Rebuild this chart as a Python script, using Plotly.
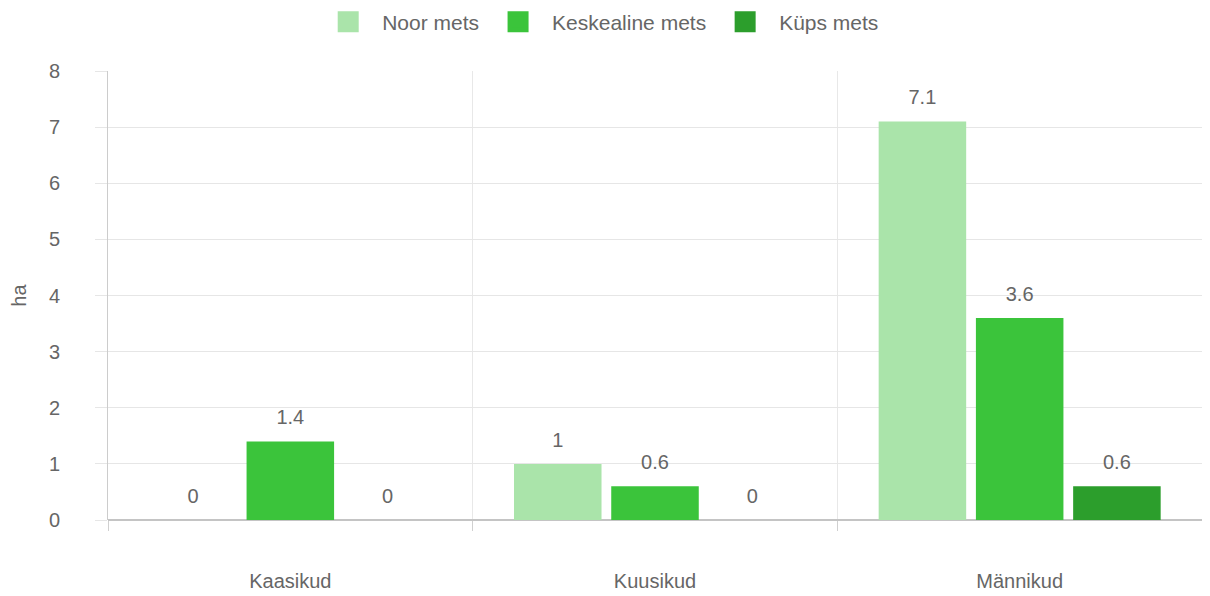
import plotly.graph_objects as go

categories = ["Kaasikud", "Kuusikud", "Männikud"]
series_names = ["Noor mets", "Keskealine mets", "Küps mets"]
noor = [0, 1, 7.1]
keskealine = [1.4, 0.6, 3.6]
kyps = [0, 0, 0.6]
colors = ["#aae4aa", "#3bc43b", "#2c9e2c"]
y_ticks = [0, 1, 2, 3, 4, 5, 6, 7, 8]

FONT = "Liberation Sans, Arial, sans-serif"
GRAY = "#666666"
FS = 20

fig = go.Figure()
for name, vals, col in zip(series_names, [noor, keskealine, kyps], colors):
    fig.add_trace(go.Bar(
        name=name, x=categories, y=vals, marker_color=col,
        marker_line=dict(width=0), showlegend=False,
        offsetgroup=name, legendgroup=name, hoverinfo="skip",
    ))
for name, vals in zip(series_names, [noor, keskealine, kyps]):
    fig.add_trace(go.Scatter(
        x=categories, y=vals, mode="markers+text",
        text=[f"{v:g}" for v in vals], textposition="top center",
        textfont=dict(family=FONT, size=FS, color=GRAY),
        marker=dict(size=18, opacity=0), offsetgroup=name,
        showlegend=False, hoverinfo="skip", cliponaxis=False,
    ))
# legend-only entries with larger square swatches
for name, col in zip(series_names, colors):
    fig.add_trace(go.Scatter(
        x=[None], y=[None], mode="markers", name=name, legendgroup=name,
        marker=dict(symbol="square", size=16, color=col,
                    line=dict(color=col, width=5)),
        hoverinfo="skip",
    ))

fig.update_layout(
    width=1194, height=588,
    margin=dict(l=100, r=0, t=63, b=76, autoexpand=False),
    paper_bgcolor="white", plot_bgcolor="white",
    barmode="group", bargap=0.2, bargroupgap=0.1,
    scattermode="group", scattergap=0.2,
    font=dict(family=FONT, size=FS, color=GRAY),
    legend=dict(orientation="h", x=0.449, xanchor="center",
                y=1.109, yanchor="middle", font=dict(size=21, color=GRAY),
                itemwidth=58, traceorder="normal"),
    showlegend=True,
)
fig.update_xaxes(
    type="category", tickson="boundaries", ticks="outside", ticklen=10,
    tickcolor="#d0d0d0", showgrid=True, gridcolor="#e8e8e8",
    showline=False, ticklabelstandoff=47, automargin=False,
    tickfont=dict(size=FS, color=GRAY),
)
fig.update_yaxes(
    range=[0, 8], tickvals=y_ticks, ticks="outside", ticklen=12,
    tickcolor="#e6e6e6", gridcolor="#e6e6e6", showline=True,
    linecolor="#cccccc", zeroline=True, zerolinecolor="#c4c4c4",
    ticklabelstandoff=31, tickfont=dict(size=FS, color=GRAY), automargin=False,
    title=dict(text="ha", font=dict(size=FS, color=GRAY), standoff=22),
)
fig.write_html("out.html")
